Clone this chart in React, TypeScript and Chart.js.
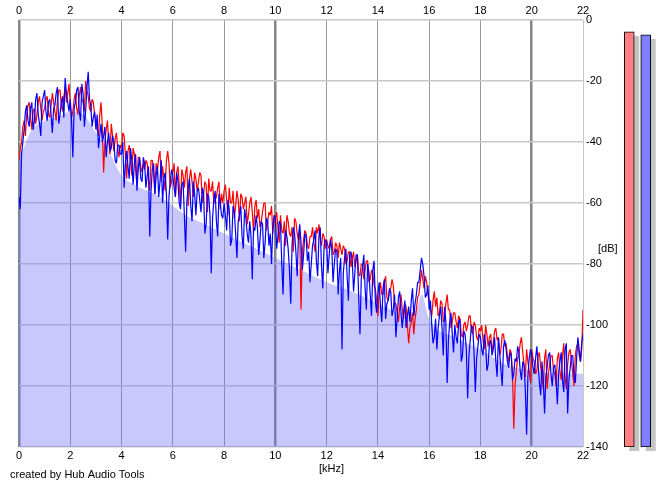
import React, { useEffect, useRef } from "react";
import { Chart, registerables } from "chart.js";
Chart.register(...registerables);

// ---- data ----
const STEP_KHZ = 0.05; // spacing of the spectrum samples, kHz
const X_MIN = 0;
const X_MAX = 22;
const X_STEP = 2;
const Y_MIN = -140;
const Y_MAX = 0;
const Y_STEP = 20;

// blue channel, dB, one value every 0.05 kHz from 0 to 22 kHz (one row per kHz)
const BLUE_DB = [
  -58, -62, -44, -40, -36, -30, -28, -33, -35, -29, -27, -36, -33, -26, -24, -31, -34, -38, -27, -25,
  -23, -30, -33, -27, -26, -31, -37, -29, -28, -24, -22, -34, -31, -27, -25, -32, -19, -24, -27, -30,
  -26, -33, -45, -29, -27, -23, -22, -30, -33, -21, -24, -35, -30, -22, -17, -26, -28, -35, -32, -30,
  -36, -31, -42, -38, -34, -40, -38, -35, -45, -40, -37, -43, -42, -38, -40, -46, -47, -41, -41, -44,
  -44, -40, -55, -47, -43, -48, -52, -42, -46, -54, -47, -44, -56, -49, -45, -52, -53, -45, -47, -55,
  -51, -48, -71, -56, -49, -47, -57, -51, -48, -58, -53, -46, -60, -52, -50, -57, -72, -58, -53, -49,
  -51, -55, -58, -50, -53, -60, -62, -54, -53, -64, -76, -59, -55, -52, -61, -66, -53, -57, -64, -56,
  -55, -59, -63, -55, -57, -70, -67, -57, -58, -64, -83, -65, -59, -56, -66, -71, -57, -60, -64, -65,
  -60, -64, -69, -59, -62, -74, -72, -61, -63, -70, -78, -66, -64, -61, -71, -75, -62, -65, -70, -73,
  -66, -71, -85, -68, -69, -64, -68, -77, -72, -66, -67, -78, -73, -65, -66, -74, -70, -80, -68, -64,
  -65, -75, -71, -66, -67, -80, -90, -73, -69, -71, -75, -82, -93, -74, -68, -70, -76, -84, -71, -67,
  -73, -82, -77, -70, -71, -79, -76, -86, -80, -74, -72, -69, -79, -84, -71, -68, -81, -88, -74, -72,
  -73, -83, -77, -72, -75, -86, -80, -75, -76, -90, -82, -78, -108, -83, -78, -75, -84, -92, -77, -76,
  -79, -89, -83, -77, -77, -91, -103, -85, -81, -77, -88, -95, -80, -83, -90, -97, -82, -79, -92, -96,
  -90, -86, -94, -99, -88, -85, -98, -93, -92, -88, -89, -97, -95, -90, -104, -98, -91, -89, -96, -101,
  -96, -92, -101, -97, -94, -99, -92, -88, -97, -93, -90, -86, -86, -82, -78, -80, -84, -91, -90, -87,
  -95, -92, -100, -106, -104, -98, -108, -101, -97, -94, -101, -110, -94, -99, -119, -105, -99, -96, -103, -109,
  -100, -104, -106, -99, -98, -112, -110, -102, -103, -108, -124, -110, -105, -100, -101, -109, -122, -111, -107, -103,
  -104, -108, -110, -103, -106, -115, -113, -106, -105, -110, -108, -104, -112, -117, -104, -109, -115, -120, -107, -105,
  -108, -112, -114, -109, -110, -118, -116, -111, -112, -107, -109, -115, -118, -112, -113, -121, -136, -117, -111, -108,
  -110, -114, -116, -111, -107, -113, -119, -123, -112, -118, -129, -117, -114, -110, -109, -116, -120, -114, -113, -118,
  -126, -116, -112, -109, -118, -122, -108, -106, -129, -118, -114, -110, -110, -117, -119, -111, -104, -108, -112, -106,
  -103,
];

// red channel, dB, same spacing
const RED_DB = [
  -46, -42, -40, -35, -33, -38, -31, -28, -27, -32, -36, -30, -29, -34, -31, -27, -25, -29, -33, -30,
  -29, -26, -25, -31, -32, -28, -24, -27, -30, -33, -26, -23, -23, -28, -30, -25, -22, -27, -24, -21,
  -28, -32, -30, -26, -24, -29, -31, -25, -22, -26, -27, -30, -20, -23, -25, -29, -30, -26, -27, -31,
  -33, -36, -38, -31, -27, -35, -50, -40, -36, -33, -40, -44, -34, -38, -43, -39, -37, -42, -45, -41,
  -42, -37, -38, -44, -52, -43, -41, -46, -51, -42, -44, -49, -54, -45, -45, -48, -50, -47, -49, -46,
  -47, -52, -56, -46, -46, -50, -57, -47, -49, -45, -43, -53, -48, -52, -56, -46, -43, -47, -55, -53,
  -50, -47, -58, -50, -48, -54, -60, -49, -51, -55, -50, -48, -61, -52, -49, -53, -58, -50, -52, -56,
  -53, -50, -51, -60, -57, -53, -54, -63, -52, -56, -56, -53, -60, -59, -58, -55, -53, -62, -57, -60,
  -56, -54, -59, -64, -55, -60, -60, -56, -65, -61, -56, -59, -66, -57, -58, -62, -60, -58, -67, -64,
  -60, -58, -63, -70, -61, -59, -65, -62, -68, -66, -63, -60, -60, -69, -66, -63, -64, -61, -70, -66,
  -65, -63, -68, -73, -64, -69, -70, -66, -74, -64, -66, -70, -71, -68, -76, -65, -66, -70, -72, -69,
  -95, -76, -72, -69, -70, -74, -75, -71, -71, -68, -73, -76, -68, -70, -67, -72, -74, -70, -71, -75,
  -72, -74, -75, -72, -71, -77, -76, -73, -74, -78, -73, -75, -77, -74, -75, -80, -79, -76, -76, -81,
  -78, -76, -81, -79, -77, -83, -84, -80, -80, -85, -82, -79, -79, -86, -85, -82, -83, -87, -88, -92,
  -97, -89, -86, -90, -90, -86, -84, -91, -92, -89, -88, -85, -87, -93, -93, -96, -99, -94, -90, -95,
  -98, -93, -94, -100, -106, -101, -99, -96, -103, -98, -95, -91, -90, -86, -82, -85, -88, -84, -86, -90,
  -92, -95, -97, -92, -89, -94, -91, -97, -96, -92, -93, -99, -98, -93, -90, -95, -95, -101, -99, -96,
  -96, -99, -101, -97, -98, -103, -104, -100, -99, -102, -100, -97, -97, -102, -103, -99, -100, -104, -105, -101,
  -102, -100, -105, -108, -100, -103, -107, -104, -103, -109, -106, -102, -101, -105, -104, -110, -108, -103, -103, -107,
  -106, -110, -112, -108, -109, -116, -134, -120, -115, -111, -110, -106, -104, -109, -113, -117, -108, -112, -115, -119,
  -108, -111, -112, -116, -115, -110, -109, -114, -117, -121, -111, -108, -121, -116, -113, -110, -110, -115, -116, -120,
  -111, -109, -115, -118, -110, -106, -117, -121, -113, -109, -108, -112, -116, -120, -110, -107, -106, -110, -112, -108,
  -95,
];

// averaged spectrum (the filled area)
const AVG_KHZ = [0, 0.5, 1, 1.5, 2, 2.5, 3, 3.5, 4, 4.5, 5, 5.5, 6, 6.5, 7, 7.5, 8, 8.5, 9, 9.5, 10, 11, 12, 13, 14, 15, 15.5, 15.7, 16, 17, 18, 19, 20, 21, 22];
const AVG_DB = [-46, -36, -33, -32, -30, -31, -37, -43, -51, -54, -56, -58, -61, -64, -66, -68, -70, -72, -74, -76, -78, -82, -86, -89, -93, -96, -95, -90, -98, -104, -108, -113, -115, -116, -116];

// level meters
const METER_LABELS = ["L", "R"];
const METER_TOP_DB = [-3.9, -4.9];
const METER_COLORS = ["#ff8080", "#8080ff"];

const FONT = "'Liberation Sans', Arial, sans-serif";

const textPlugin = {
  id: "texts",
  afterDraw(chart: any) {
    const ctx = chart.ctx;
    ctx.save();
    ctx.font = `11px ${FONT}`;
    ctx.fillStyle = "#000";
    ctx.textBaseline = "middle";
    ctx.textAlign = "left";
    ctx.fillText("[dB]", 598, 249);
    ctx.fillText("[kHz]", 319, 469);
    ctx.fillText("created by Hub Audio Tools", 10, 475);
    ctx.restore();
  },
};

const shadowPlugin = {
  id: "meterShadow",
  beforeDatasetsDraw(chart: any) {
    const ctx = chart.ctx;
    const meta = chart.getDatasetMeta(0);
    ctx.save();
    ctx.fillStyle = "#c4c4c4";
    meta.data.forEach((el: any) => {
      const p = el.getProps(["x", "y", "base", "width"], true);
      ctx.fillRect(p.x - p.width / 2 + 5, p.y + 4, p.width, p.base - p.y);
    });
    ctx.restore();
  },
};

function gridColor(c: any) {
  const v = c.tick ? c.tick.value : 0;
  if (v === X_MAX) return "#c8c8c8";
  if (v % 10 === 0) return "#868686";
  return "#9a9a9a";
}
function gridWidth(c: any) {
  const v = c.tick ? c.tick.value : 0;
  if (v === X_MAX) return 1;
  if (v % 10 === 0) return 2.5;
  return 1;
}

export default function App() {
  const mainRef = useRef<HTMLCanvasElement>(null);
  const meterRef = useRef<HTMLCanvasElement>(null);

  useEffect(() => {
    Chart.defaults.font.family = FONT;
    Chart.defaults.font.size = 11;
    Chart.defaults.color = "#000";

    const tickFont = { family: FONT, size: 11 };
    const main = new Chart(mainRef.current as HTMLCanvasElement, {
      type: "line",
      data: {
        datasets: [
          {
            label: "blue",
            data: BLUE_DB.map((v, i) => ({ x: i * STEP_KHZ, y: v })),
            borderColor: "#0000ff",
            borderWidth: 1.2,
            pointRadius: 0,
            borderJoinStyle: "bevel",
            fill: false,
            order: 0,
          },
          {
            label: "red",
            data: RED_DB.map((v, i) => ({ x: i * STEP_KHZ, y: v })),
            borderColor: "#ff0000",
            borderWidth: 1.2,
            pointRadius: 0,
            borderJoinStyle: "bevel",
            fill: false,
            order: 1,
          },
          {
            label: "avg",
            data: AVG_DB.map((v, i) => ({ x: AVG_KHZ[i], y: v })),
            borderWidth: 0,
            borderColor: "rgba(0,0,0,0)",
            backgroundColor: "rgba(110,110,255,0.38)",
            pointRadius: 0,
            fill: "start",
            cubicInterpolationMode: "monotone",
            order: 2,
          },
        ],
      },
      options: {
        responsive: false,
        animation: false,
        events: [],
        layout: { padding: { left: 19, right: 0, top: 0, bottom: 0 } },
        plugins: { legend: { display: false }, tooltip: { enabled: false } },
        scales: {
          x: {
            type: "linear",
            position: "bottom",
            min: X_MIN,
            max: X_MAX,
            afterFit: (s: any) => { s.height = 40; },
            ticks: { stepSize: X_STEP, padding: 2, color: "#000", font: tickFont, maxRotation: 0, autoSkip: false },
            grid: { drawTicks: false, color: gridColor, lineWidth: gridWidth },
            border: { display: false },
          },
          x2: {
            type: "linear",
            position: "top",
            min: X_MIN,
            max: X_MAX,
            afterFit: (s: any) => { s.height = 20; },
            ticks: { stepSize: X_STEP, padding: 2, color: "#000", font: tickFont, maxRotation: 0, autoSkip: false },
            grid: { display: false, drawTicks: false },
            border: { display: false },
          },
          y: {
            type: "linear",
            position: "right",
            min: Y_MIN,
            max: Y_MAX,
            afterFit: (s: any) => { s.width = 82; },
            ticks: { stepSize: Y_STEP, padding: 3, color: "#000", font: tickFont },
            grid: { drawTicks: false, color: "#c8c8c8", lineWidth: 1.5 },
            border: { display: false },
          },
        },
      } as any,
      plugins: [textPlugin],
    });

    const meter = new Chart(meterRef.current as HTMLCanvasElement, {
      type: "bar",
      data: {
        labels: METER_LABELS,
        datasets: [
          {
            data: METER_TOP_DB.map((v) => [Y_MIN, v]),
            backgroundColor: METER_COLORS,
            borderColor: "#000",
            borderWidth: 1,
            borderSkipped: false,
            barThickness: 10,
          },
        ],
      },
      options: {
        responsive: false,
        animation: false,
        events: [],
        layout: { padding: { left: 6, right: 11, top: 20, bottom: 40 } },
        plugins: { legend: { display: false }, tooltip: { enabled: false } },
        scales: {
          x: { display: false },
          y: { display: false, min: Y_MIN, max: Y_MAX },
        },
      } as any,
      plugins: [shadowPlugin],
    });

    return () => {
      main.destroy();
      meter.destroy();
    };
  }, []);

  return (
    <div style={{ position: "fixed", left: 0, top: 0, width: 665, height: 487, background: "#fff" }}>
      <canvas ref={mainRef} width={665} height={487} style={{ position: "absolute", left: 0, top: 0, width: 665, height: 487 }} />
      <canvas ref={meterRef} width={50} height={487} style={{ position: "absolute", left: 615, top: 0, width: 50, height: 487 }} />
    </div>
  );
}
